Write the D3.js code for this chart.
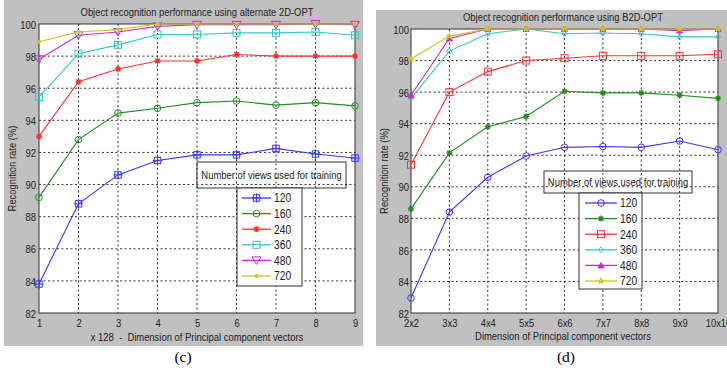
<!DOCTYPE html>
<html><head><meta charset="utf-8">
<script src="https://cdn.jsdelivr.net/npm/d3@7"></script>
<style>
body{margin:0;background:#fff;}
svg text{font-family:"Liberation Sans",Arial,sans-serif;white-space:pre;}
</style></head>
<body><svg id="c" width="727" height="372"></svg>
<script>
// ---------- data ----------
const seriesNames = ["120","160","240","360","480","720"];
const yTicks = [82,84,86,88,90,92,94,96,98,100];

// Panel (c): alternate 2D-OPT
const xLabelsC = ["1","2","3","4","5","6","7","8","9"];
const c120 = [83.8,88.8,90.6,91.5,91.85,91.85,92.25,91.9,91.65];
const c160 = [89.2,92.8,94.45,94.75,95.1,95.2,94.95,95.1,94.9];
const c240 = [93.0,96.4,97.2,97.7,97.7,98.1,98.0,98.0,98.0];
const c360 = [95.45,98.15,98.7,99.35,99.35,99.45,99.45,99.5,99.3];
const c480 = [97.8,99.3,99.5,99.85,99.95,99.95,99.95,100,99.95];
const c720 = [98.9,99.5,99.65,100,100,100,100,100,100];

// Panel (d): B2D-OPT
const xLabelsD = ["2x2","3x3","4x4","5x5","6x6","7x7","8x8","9x9","10x10"];
const d120 = [82.95,88.4,90.6,91.95,92.5,92.55,92.5,92.9,92.35];
const d160 = [88.6,92.15,93.8,94.45,96.05,95.95,95.95,95.8,95.6];
const d240 = [91.4,96.0,97.3,98.0,98.15,98.3,98.3,98.3,98.4];
const d360 = [95.6,98.6,99.7,100,99.7,99.75,99.7,99.5,99.5];
const d480 = [95.8,99.4,100,100,100,100,100,99.9,100];
const d720 = [98.1,99.55,100,100,100,100,100,100,100];

const titles = ["Object recognition performance using alternate 2D-OPT","Object recognition performance using B2D-OPT"];
const xTitles = ["x 128  -  Dimension of Principal component vectors","Dimension of Principal component vectors"];
const yTitle = "Recognition rate (%)";
const legendTitle = "Number of views used for training";
const captions = ["(c)","(d)"];

const colors = ["#3838ff","#1f8f1f","#ff3030","#30c8c8","#cc2ccc","#c8c81e"];

// ---------- layout ----------
const SX = 0.82;   // horizontal condensing to mimic narrow Helvetica
const FS = 11.5;
const svg = d3.select("#c");
const panels = [
  {bg:[4,0,359,346], plot:[39,24,355,313], title:[197,16], xt:[197,341], yt:[12], cap:[183,362],
   xLabels:xLabelsC, series:[c120,c160,c240,c360,c480,c720],
   markers:["sqplus","circle","star","square","tridown","dot"],
   legT:[197,162,346,188], legB:[237,188,302,286], legY0:198, legDy:15.6, legL:[242,271], legTx:274},
  {bg:[376,10,360,336], plot:[411,29,718,313], title:[563,21], xt:[563,340], yt:[384], cap:[566,362],
   xLabels:xLabelsD, series:[d120,d160,d240,d360,d480,d720],
   markers:["circle","star","square","diamond","triup","pent"],
   legT:[544,171,692,193], legB:[579,193,642,289], legY0:203, legDy:15.6, legL:[585,617], legTx:620}
];

function txt(g, x, y, s, anchor, rot){
  return g.append("text")
    .attr("transform",`translate(${x},${y})${rot?" rotate(-90)":""} scale(${SX},1)`)
    .attr("text-anchor",anchor||"start").attr("font-size",FS).attr("fill","#222").text(s);
}

function drawMarker(g, type, x, y, col){
  const s = 3.2;
  switch(type){
    case "sqplus":
      g.append("rect").attr("x",x-s).attr("y",y-s).attr("width",2*s).attr("height",2*s).attr("fill","none").attr("stroke",col);
      g.append("path").attr("d",`M${x-s-1.5},${y}H${x+s+1.5}M${x},${y-s-1.5}V${y+s+1.5}`).attr("stroke",col);
      break;
    case "circle":
      g.append("circle").attr("cx",x).attr("cy",y).attr("r",3.3).attr("fill","none").attr("stroke",col); break;
    case "square":
      g.append("rect").attr("x",x-3.5).attr("y",y-3.5).attr("width",7).attr("height",7).attr("fill","none").attr("stroke",col); break;
    case "star":
      g.append("path").attr("d",`M${x-3},${y}H${x+3}M${x},${y-3}V${y+3}M${x-2.2},${y-2.2}L${x+2.2},${y+2.2}M${x-2.2},${y+2.2}L${x+2.2},${y-2.2}`).attr("stroke",col).attr("stroke-width",1.4); break;
    case "tridown":
      g.append("path").attr("d",`M${x-4.5},${y-3.5}H${x+4.5}L${x},${y+4}Z`).attr("fill","none").attr("stroke",col); break;
    case "triup":
      g.append("path").attr("d",`M${x-3},${y+2.5}H${x+3}L${x},${y-3}Z`).attr("fill",col).attr("stroke",col); break;
    case "diamond":
      g.append("path").attr("d",`M${x},${y-3}L${x+2.5},${y}L${x},${y+3}L${x-2.5},${y}Z`).attr("fill","none").attr("stroke",col); break;
    case "dot":
      g.append("circle").attr("cx",x).attr("cy",y).attr("r",2).attr("fill",col); break;
    case "pent":
      g.append("path").attr("transform",`translate(${x},${y})`).attr("d",d3.symbol(d3.symbolStar,22)()).attr("fill",col); break;
  }
}

panels.forEach((p,pi)=>{
  const g = svg.append("g");
  g.append("rect").attr("x",p.bg[0]).attr("y",p.bg[1]).attr("width",p.bg[2]).attr("height",p.bg[3]).attr("fill","#c0c0c0");
  const [x0,y0,x1,y1] = p.plot;
  g.append("rect").attr("x",x0).attr("y",y0).attr("width",x1-x0).attr("height",y1-y0).attr("fill","#fff");
  const x = d3.scalePoint().domain(p.xLabels).range([x0,x1]);
  const y = d3.scaleLinear().domain([82,100]).range([y1,y0]);

  // grid
  const grid = g.append("g").attr("stroke","#000").attr("stroke-width",0.8).attr("stroke-dasharray","2,2.5");
  p.xLabels.slice(1,-1).forEach(l=>grid.append("line").attr("x1",x(l)).attr("x2",x(l)).attr("y1",y0).attr("y2",y1));
  yTicks.slice(1,-1).forEach(v=>grid.append("line").attr("x1",x0).attr("x2",x1).attr("y1",y(v)).attr("y2",y(v)));

  // axes
  const ax = g.append("g").attr("transform",`translate(0,${y1})`).call(d3.axisBottom(x).tickSize(0));
  ax.select(".domain").remove();
  ax.selectAll("text").attr("font-size",FS).attr("fill","#222").attr("y",0).attr("dy",0)
    .attr("transform",`translate(0,14) scale(${SX},1)`);
  const pad = pi===0 ? 3 : 2;
  const ay = g.append("g").attr("transform",`translate(${x0},0)`).call(d3.axisLeft(y).tickValues(yTicks).tickSize(0));
  ay.select(".domain").remove();
  ay.selectAll("text").attr("font-size",FS).attr("fill","#222").attr("x",0).attr("dy","0.36em")
    .attr("transform",`translate(${-pad},0) scale(${SX},1)`);
  g.append("rect").attr("x",x0).attr("y",y0).attr("width",x1-x0).attr("height",y1-y0).attr("fill","none").attr("stroke","#333").attr("stroke-width",1);

  // titles
  txt(g,p.title[0],p.title[1],titles[pi],"middle");
  txt(g,p.xt[0],p.xt[1],xTitles[pi],"middle");
  txt(g,p.yt[0],(y0+y1)/2,yTitle,"middle",true).attr("dy","0.35em");
  g.append("text").attr("x",p.cap[0]).attr("y",p.cap[1]).attr("text-anchor","middle").attr("font-size",15.5)
    .style("font-family","'Liberation Serif','Times New Roman',serif").attr("fill","#000").text(captions[pi]);

  // series
  const line = d3.line().x((d,i)=>x(p.xLabels[i])).y(d=>y(d));
  p.series.forEach((s,si)=>{
    const sg = g.append("g");
    sg.append("path").datum(s).attr("d",line).attr("fill","none").attr("stroke",colors[si]).attr("stroke-width",1.1);
    s.forEach((v,i)=>drawMarker(sg,p.markers[si],x(p.xLabels[i]),y(v),colors[si]));
  });

  // legend
  const [tx0,ty0,tx1,ty1] = p.legT;
  g.append("rect").attr("x",tx0).attr("y",ty0).attr("width",tx1-tx0).attr("height",ty1-ty0).attr("fill","none").attr("stroke","#333");
  txt(g,(tx0+tx1)/2,(ty0+ty1)/2,legendTitle,"middle").attr("dy","0.35em");
  const [bx0,by0,bx1,by1] = p.legB;
  g.append("rect").attr("x",bx0).attr("y",by0).attr("width",bx1-bx0).attr("height",by1-by0).attr("fill","#fff").attr("stroke","#333");
  seriesNames.forEach((n,si)=>{
    const yy = p.legY0 + si*p.legDy;
    g.append("line").attr("x1",p.legL[0]).attr("x2",p.legL[1]).attr("y1",yy).attr("y2",yy).attr("stroke",colors[si]).attr("stroke-width",1.3);
    drawMarker(g,p.markers[si],(p.legL[0]+p.legL[1])/2,yy,colors[si]);
    txt(g,p.legTx,yy,n,"start").attr("dy","0.35em").attr("font-size",12.5);
  });
});
</script></body></html>
